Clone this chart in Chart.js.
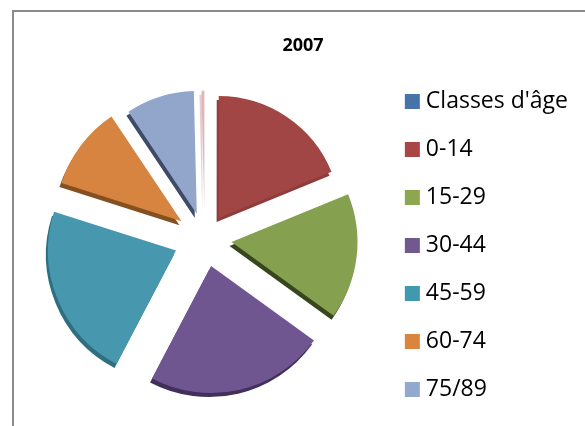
<!DOCTYPE html>
<html><head><meta charset="utf-8">
<script src="https://cdn.jsdelivr.net/npm/chart.js@4"></script>
<style>
html,body{margin:0;padding:0;background:#fff;overflow:hidden;width:585px;height:426px}
#box{position:absolute;left:12px;top:10px;width:600px;height:460px;border:2px solid #8a8a8a;background:#fff}
#c{display:block}
</style></head><body>
<div id="box"><canvas id="c" width="584" height="440"></canvas></div>
<script>
const categories = ["Classes d'âge","0-14","15-29","30-44","45-59","60-74","75/89"];
const values = [0.4,18.6,16.0,22.5,22.0,10.6,8.9];
const sliceColors = ["#DDB8B8","#A24545","#85A04E","#705690","#4798AF","#D6843F","#92A6CB"];
const legendColors = ["#4674A8","#A94544","#8CA750","#71588F","#4099AF","#DB843D","#93A8CF"];
const depthColors = ["#E6CCCC","#8F3C3C","#37461C","#40305A","#2F6E80","#84501F","#3E4A66"];
const explode = [31,25,27,28,31,29,26];
const radii = [117,122,126,127,128,126,123];
const depth = {x:-2, y:4};
const legendShift = 29;
const titleShift = 2;

const explodedPie = {
  id:'explodedPie',
  afterLayout(chart){
    chart.legend.top += legendShift; chart.legend.bottom += legendShift;
    chart.titleBlock.left += titleShift; chart.titleBlock.right += titleShift;
  },
  beforeDatasetDraw(chart){
    const ctx = chart.ctx;
    const arcs = chart.getDatasetMeta(0).data;
    const place = (arc,i,dx,dy)=>{
      const mid = (arc.startAngle + arc.endAngle)/2;
      ctx.save();
      ctx.translate(Math.cos(mid)*explode[i]+dx, Math.sin(mid)*explode[i]+dy);
      arc.draw(ctx);
      ctx.restore();
    };
    arcs.forEach((arc,i)=>{
      arc.outerRadius = radii[i];
      const bg = arc.options.backgroundColor;
      arc.options.backgroundColor = depthColors[i];
      place(arc,i,depth.x,depth.y);
      arc.options.backgroundColor = bg;
    });
    arcs.forEach((arc,i)=>place(arc,i,0,0));
    return false;
  }
};

new Chart(document.getElementById('c'),{
  type:'pie',
  plugins:[explodedPie],
  data:{labels:categories,datasets:[{data:values,backgroundColor:sliceColors,borderWidth:0,radius:125,rotation:-1.4}]},
  options:{
    responsive:false,animation:false,
    layout:{padding:{left:10,right:20,top:0,bottom:31}},
    plugins:{
      title:{display:true,text:'2007',color:'#000',font:{family:'"Open Sans"',size:18,weight:'bold'},padding:{top:23,bottom:0}},
      tooltip:{enabled:false},
      legend:{position:'right',labels:{usePointStyle:true,pointStyle:'rect',boxWidth:4,boxHeight:15,padding:25,color:'#111',font:{family:'"Open Sans"',size:23},
        generateLabels(chart){return categories.map((t,i)=>({text:t,fillStyle:legendColors[i],strokeStyle:legendColors[i],lineWidth:0,index:i,hidden:false,pointStyle:'rect'}));}}}
    }
  }
});
</script></body></html>
